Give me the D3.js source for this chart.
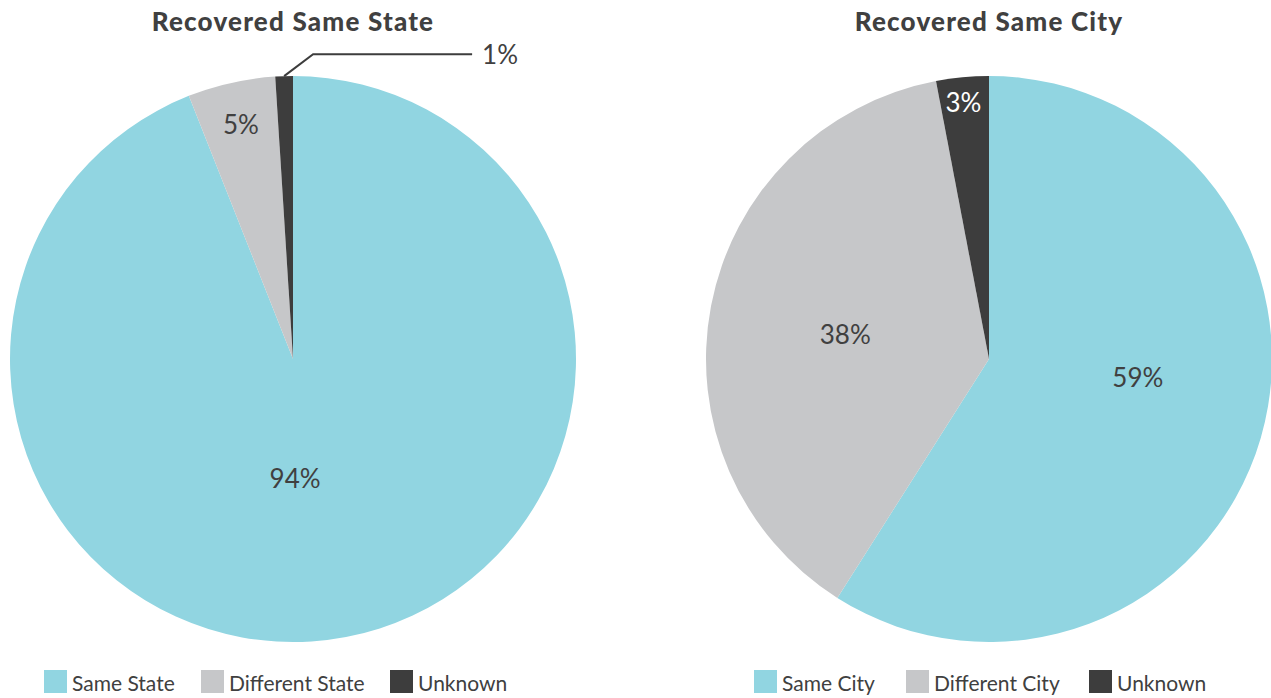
<!DOCTYPE html>
<html><head><meta charset="utf-8">
<script src="https://cdn.jsdelivr.net/npm/d3@7"></script>
<style>
html,body{margin:0;padding:0;background:#fff;}
text{font-family:Lato,"Noto Sans",sans-serif;}
</style></head>
<body><svg id="c" width="1271" height="698"></svg>
<script>
const titles = ["Recovered Same State", "Recovered Same City"];
const categoriesState = ["Same State", "Different State", "Unknown"];
const valuesState = [94, 5, 1];
const categoriesCity = ["Same City", "Different City", "Unknown"];
const valuesCity = [59, 38, 3];
const colors = ["#91D5E1", "#C6C7C9", "#3D3D3D"];

const svg = d3.select("#c");
const R = 283;
// label placement: radius (fraction of R) and angle (degrees, clockwise from top)
const charts = [
  {title: titles[0], cats: categoriesState, vals: valuesState, cx: 293, cy: 359,
   legendX: [44, 201, 390], lab: [[0.424, 179], [0.85, 347.5], null]},
  {title: titles[1], cats: categoriesCity, vals: valuesCity, cx: 989, cy: 359,
   legendX: [754, 906, 1089], lab: [[0.53, 97], [0.515, 279.5], [0.912, 354.3]]}
];

const pie = d3.pie().sort(null).value(d => d);
const arc = d3.arc().innerRadius(0).outerRadius(R);

charts.forEach((ch, ci) => {
  const g = svg.append("g").attr("transform", `translate(${ch.cx},${ch.cy})`);
  const arcs = pie(ch.vals);
  g.selectAll("path").data(arcs).enter().append("path")
    .attr("d", arc).attr("fill", (d, i) => colors[i]);

  svg.append("text").attr("x", ch.cx).attr("y", 31)
    .attr("text-anchor", "middle").attr("font-size", 26).attr("font-weight", 900)
    .attr("letter-spacing", "1.2px")
    .attr("fill", "#404040").text(ch.title);

  arcs.forEach((a, i) => {
    const mid = (a.startAngle + a.endAngle) / 2;
    const v = ch.vals[i];
    if (!ch.lab[i]) {
      // leader line label outside
      const p0 = [R * Math.sin(mid), -R * Math.cos(mid)];
      const p1 = [p0[0] + 29, p0[1] - 22];
      const p2 = [p1[0] + 159, p1[1]];
      g.append("polyline").attr("points", [p0, p1, p2].map(p => p.join(",")).join(" "))
        .attr("fill", "none").attr("stroke", "#3D3D3D").attr("stroke-width", 2);
      g.append("text").attr("x", p2[0] + 10).attr("y", p2[1]).attr("dy", "0.36em")
        .attr("font-size", 26).attr("fill", "#404040").text(v + "%");
      return;
    }
    const rr = ch.lab[i][0] * R, ang = ch.lab[i][1] * Math.PI / 180;
    const x = rr * Math.sin(ang), y = -rr * Math.cos(ang);
    g.append("text").attr("x", x).attr("y", y).attr("dy", "0.36em")
      .attr("text-anchor", "middle").attr("font-size", 26)
      .attr("fill", i === 2 ? "#ffffff" : "#404040").text(v + "%");
  });

  ch.cats.forEach((c, i) => {
    const x = ch.legendX[i];
    svg.append("rect").attr("x", x).attr("y", 670).attr("width", 23).attr("height", 23)
      .attr("fill", colors[i]);
    svg.append("text").attr("x", x + 28).attr("y", 691).attr("font-size", 21)
      .attr("fill", "#404040").text(c);
  });
});
</script></body></html>
